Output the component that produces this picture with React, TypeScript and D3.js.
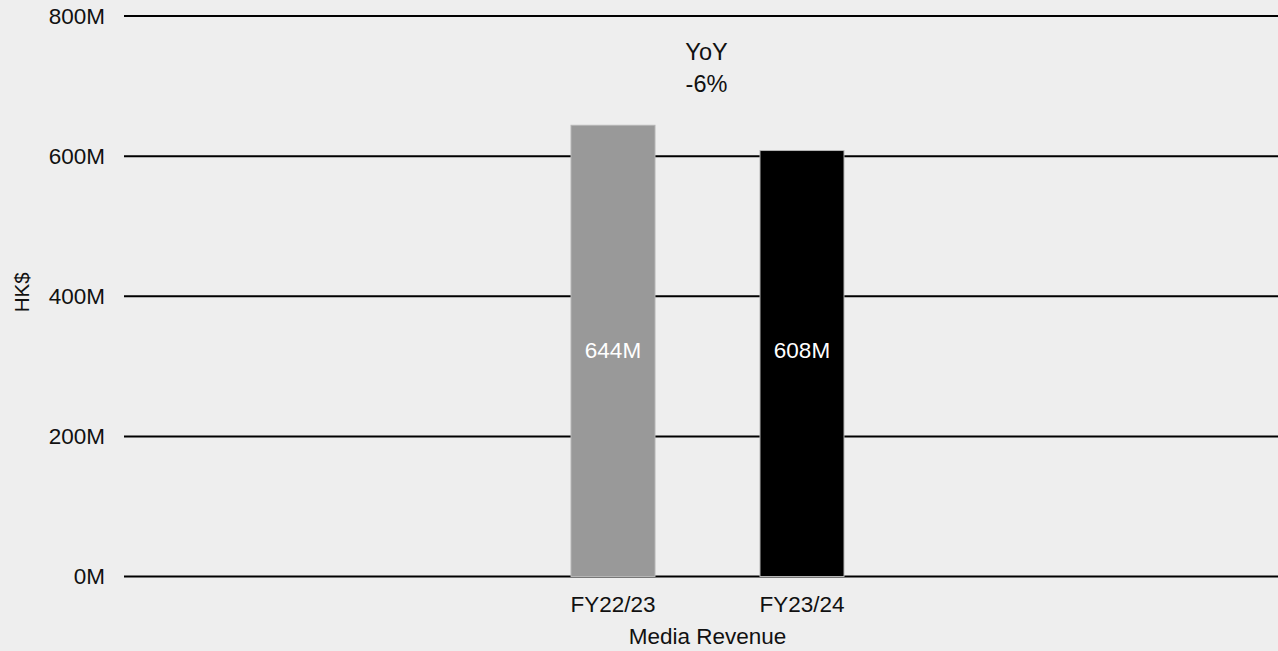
import React, { useEffect, useRef } from "react";
import * as d3 from "d3";

// Media revenue by fiscal year (HK$)
const categories: string[] = ["FY22/23", "FY23/24"];
const revenue: number[] = [644, 608];
const valueLabels: string[] = ["644M", "608M"];
const barColors: string[] = ["#999999", "#000000"];
const yTicks: number[] = [0, 200, 400, 600, 800];
const yoyLines: string[] = ["YoY", "-6%"];
const xAxisTitle = "Media Revenue";
const yAxisTitle = "HK$";
const footnote = "Data: company annual reports";

const W = 1278;
const H = 651;
const FONT = "'Liberation Sans', Arial, Helvetica, sans-serif";

export default function App() {
  const ref = useRef<SVGSVGElement | null>(null);

  useEffect(() => {
    const svg = d3.select(ref.current);
    svg.selectAll("*").remove();

    const left = 124;
    const right = W;
    const top = 16;
    const bottom = 576.5;

    const y = d3.scaleLinear().domain([0, 800]).range([bottom, top]);
    const x = d3.scalePoint<string>().domain(categories).range([613, 802]);
    const barW = 84;

    svg.append("rect").attr("width", W).attr("height", H).attr("fill", "#eeeeee");

    // horizontal grid lines with tick labels
    const g = svg.append("g");
    g.selectAll("line.grid")
      .data(yTicks)
      .join("line")
      .attr("class", "grid")
      .attr("x1", left)
      .attr("x2", right)
      .attr("y1", (d) => y(d))
      .attr("y2", (d) => y(d))
      .attr("stroke", "#000")
      .attr("stroke-width", 2);

    g.selectAll("text.tick")
      .data(yTicks)
      .join("text")
      .attr("class", "tick")
      .attr("x", 105)
      .attr("y", (d) => y(d))
      .attr("dy", "0.35em")
      .attr("text-anchor", "end")
      .attr("font-family", FONT)
      .attr("font-size", 22.5)
      .attr("fill", "#111")
      .text((d) => `${d}M`);

    // bars
    svg
      .selectAll("rect.bar")
      .data(revenue)
      .join("rect")
      .attr("class", "bar")
      .attr("x", (_, i) => (x(categories[i]) as number) - barW / 2)
      .attr("y", (d) => y(d))
      .attr("width", barW)
      .attr("height", (d) => y(0) - y(d))
      .attr("fill", (_, i) => barColors[i])
      .attr("stroke", "#b5b5b5")
      .attr("stroke-width", 1);

    // value labels inside bars
    const labelY = y(d3.max(revenue)! / 2) - 1;
    svg
      .selectAll("text.val")
      .data(valueLabels)
      .join("text")
      .attr("class", "val")
      .attr("x", (_, i) => x(categories[i]) as number)
      .attr("y", labelY)
      .attr("dy", "0.35em")
      .attr("text-anchor", "middle")
      .attr("font-family", FONT)
      .attr("font-size", 22.5)
      .attr("fill", "#fff")
      .text((d) => d);

    // category labels
    svg
      .selectAll("text.cat")
      .data(categories)
      .join("text")
      .attr("class", "cat")
      .attr("x", (d) => x(d) as number)
      .attr("y", 612)
      .attr("text-anchor", "middle")
      .attr("font-family", FONT)
      .attr("font-size", 22.5)
      .attr("fill", "#111")
      .text((d) => d);

    const mid = ((x(categories[0]) as number) + (x(categories[1]) as number)) / 2;

    svg
      .append("text")
      .attr("x", mid)
      .attr("y", 644)
      .attr("text-anchor", "middle")
      .attr("font-family", FONT)
      .attr("font-size", 22.5)
      .attr("fill", "#111")
      .text(xAxisTitle);

    // year-over-year annotation
    svg
      .selectAll("text.yoy")
      .data(yoyLines)
      .join("text")
      .attr("class", "yoy")
      .attr("x", mid - 1)
      .attr("y", (_, i) => 60 + i * 32)
      .attr("text-anchor", "middle")
      .attr("font-family", FONT)
      .attr("font-size", 23.5)
      .attr("fill", "#111")
      .text((d) => d);

    // y axis title
    svg
      .append("text")
      .attr("transform", `translate(29,${y(400) - 4}) rotate(-90)`)
      .attr("text-anchor", "middle")
      .attr("font-family", FONT)
      .attr("font-size", 20.5)
      .attr("fill", "#111")
      .text(yAxisTitle);

    svg
      .append("text")
      .attr("x", 14)
      .attr("y", 666)
      .attr("font-family", FONT)
      .attr("font-size", 20)
      .attr("fill", "#333")
      .text(footnote);
  }, []);

  return (
    <svg
      ref={ref}
      width={W}
      height={H}
      style={{ position: "absolute", left: 0, top: 0, display: "block" }}
    />
  );
}
